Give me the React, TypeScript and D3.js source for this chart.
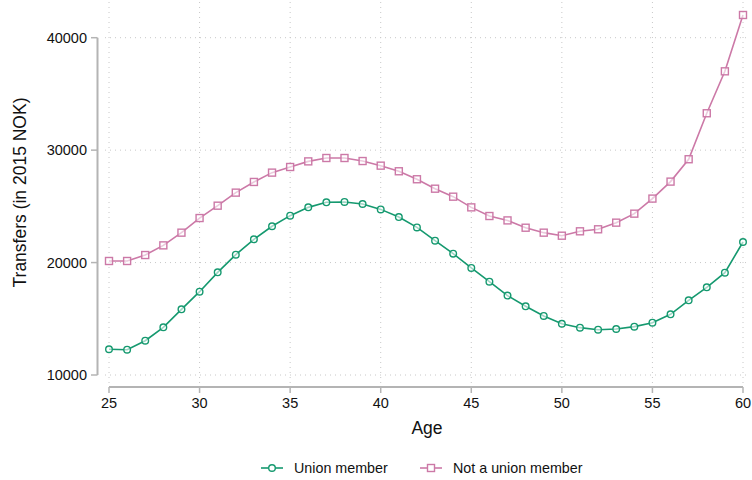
import React from "react";
import * as d3 from "d3";

const ages = [25,26,27,28,29,30,31,32,33,34,35,36,37,38,39,40,41,42,43,44,45,46,47,48,49,50,51,52,53,54,55,56,57,58,59,60];
const unionMember = [12290,12250,13050,14240,15840,17410,19130,20700,22070,23230,24170,24910,25360,25390,25210,24730,24050,23130,21950,20790,19520,18300,17060,16110,15250,14560,14210,14030,14090,14300,14650,15400,16640,17800,19100,21830];
const notUnionMember = [20140,20140,20670,21530,22660,23960,25060,26220,27170,28000,28500,29000,29300,29300,29030,28620,28120,27410,26570,25860,24910,24140,23750,23100,22660,22390,22780,22960,23550,24350,25690,27200,29190,33280,37010,42020];
const xTicks = [25,30,35,40,45,50,55,60];
const yTicks = [10000,20000,30000,40000];
const seriesNames = ["Union member", "Not a union member"];

const GREEN = "#15996f";
const PINK = "#cc79a7";
const FONT = "'Liberation Sans', Arial, sans-serif";

export default function App() {
  const W = 752, H = 480;
  const x = d3.scaleLinear().domain([25, 60]).range([109, 743]);
  const y = d3.scaleLinear().domain([10000, 40000]).range([375, 37.7]);
  const plotLeft = 105, plotRight = 749, plotTop = 2, plotBottom = 383;
  const line = d3.line<number>().x((_, i) => x(ages[i])).y(d => y(d));

  return (
    <svg width={W} height={H} style={{ position: "absolute", left: 0, top: 0, background: "#fff" }} fontFamily={FONT}>
      <rect width={W} height={H} fill="#fff" />
      {/* gridlines */}
      {yTicks.map(t => (
        <line key={"gy" + t} x1={plotLeft} x2={plotRight} y1={y(t)} y2={y(t)} stroke="#c8c8c8" strokeWidth={1} strokeDasharray="1 4" />
      ))}
      {xTicks.map(t => (
        <line key={"gx" + t} x1={x(t)} x2={x(t)} y1={plotTop} y2={plotBottom} stroke="#c8c8c8" strokeWidth={1} strokeDasharray="1 4" />
      ))}
      {/* y axis */}
      <line x1={97.5} x2={97.5} y1={y(40000)} y2={y(10000)} stroke="#b4b4b4" strokeWidth={2} />
      {yTicks.map(t => (
        <g key={"yt" + t}>
          <line x1={91} x2={97.5} y1={y(t)} y2={y(t)} stroke="#b4b4b4" strokeWidth={1.5} />
          <text x={87} y={y(t)} dy="0.35em" textAnchor="end" fontSize={14.5} fill="#111">{t}</text>
        </g>
      ))}
      {/* x axis */}
      <line x1={x(25)} x2={x(60)} y1={387} y2={387} stroke="#b4b4b4" strokeWidth={2} />
      {xTicks.map(t => (
        <g key={"xt" + t}>
          <line x1={x(t)} x2={x(t)} y1={387} y2={393} stroke="#b4b4b4" strokeWidth={1.5} />
          <text x={x(t)} y={408} textAnchor="middle" fontSize={14.5} fill="#111">{t}</text>
        </g>
      ))}
      {/* axis titles */}
      <text x={(plotLeft + plotRight) / 2} y={434} textAnchor="middle" fontSize={17.5} fill="#111">Age</text>
      <text transform={`translate(26,${(plotTop + plotBottom) / 2}) rotate(-90)`} textAnchor="middle" fontSize={17.5} fill="#111">Transfers (in 2015 NOK)</text>
      {/* series */}
      <path d={line(notUnionMember) || ""} fill="none" stroke={PINK} strokeWidth={1.6} />
      {notUnionMember.map((v, i) => (
        <rect key={"p" + i} x={x(ages[i]) - 3.5} y={y(v) - 3.5} width={7} height={7} fill="#fff" fillOpacity={0.6} stroke={PINK} strokeWidth={1.4} />
      ))}
      <path d={line(unionMember) || ""} fill="none" stroke={GREEN} strokeWidth={1.6} />
      {unionMember.map((v, i) => (
        <circle key={"g" + i} cx={x(ages[i])} cy={y(v)} r={3.3} fill="#fff" fillOpacity={0.6} stroke={GREEN} strokeWidth={1.4} />
      ))}
      {/* legend */}
      <g>
        <line x1={261} x2={283} y1={468} y2={468} stroke={GREEN} strokeWidth={1.6} />
        <circle cx={272} cy={468} r={3.3} fill="#fff" stroke={GREEN} strokeWidth={1.4} />
        <text x={294} y={468} dy="0.35em" fontSize={14.3} fill="#111">{seriesNames[0]}</text>
        <line x1={420} x2={442} y1={468} y2={468} stroke={PINK} strokeWidth={1.6} />
        <rect x={427.5} y={464.5} width={7} height={7} fill="#fff" stroke={PINK} strokeWidth={1.4} />
        <text x={453} y={468} dy="0.35em" fontSize={14.3} fill="#111">{seriesNames[1]}</text>
      </g>
    </svg>
  );
}
